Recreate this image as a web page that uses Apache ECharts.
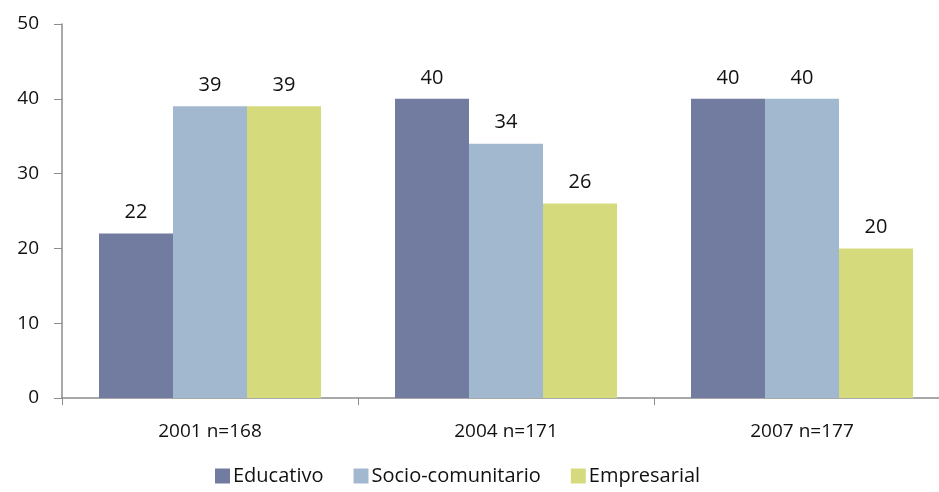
<!DOCTYPE html>
<html>
<head>
<meta charset="utf-8">
<script src="https://cdn.jsdelivr.net/npm/echarts@6/dist/echarts.min.js"></script>
<style>
html,body{margin:0;padding:0;background:#fff;}
#chart{width:939px;height:492px;}
</style>
</head>
<body>
<div id="chart"></div>
<script>
// Survey waves and sample sizes
const categories = ['2001 n=168', '2004 n=171', '2007 n=177'];
const seriesNames = ['Educativo', 'Socio-comunitario', 'Empresarial'];
const educativo = [22, 40, 40];
const socioComunitario = [39, 34, 40];
const empresarial = [39, 26, 20];
const yTicks = [0, 10, 20, 30, 40, 50];

const colors = ['#727BA0', '#A2B8CF', '#D5DB7C'];
const font = '"Open Sans", "Noto Sans", sans-serif';
const axisColor = '#8c8c8c';

const chart = echarts.init(document.getElementById('chart'));

const values = [educativo, socioComunitario, empresarial];
const series = seriesNames.map((name, i) => ({
  name: name,
  type: 'bar',
  data: values[i],
  barGap: '0%',
  barCategoryGap: '25%',
  itemStyle: { color: colors[i] },
  label: {
    show: true,
    position: 'top',
    distance: 11,
    color: '#111',
    fontSize: 20,
    fontFamily: font
  }
}));

chart.setOption({
  animation: false,
  color: colors,
  // the plot area runs slightly past the right edge of the canvas
  grid: {
    left: 62, width: 888, top: 24, bottom: 94,
    containLabel: false,
    outerBoundsMode: 'none'
  },
  legend: {
    bottom: 1,
    left: 210,
    itemWidth: 15,
    itemHeight: 15,
    itemGap: 30,
    icon: 'rect',
    textStyle: { fontSize: 20, color: '#111', fontFamily: font, padding: [0, 0, 0, -2] },
    data: seriesNames
  },
  xAxis: {
    type: 'category',
    data: categories,
    axisLine: { lineStyle: { color: axisColor, width: 1.5 } },
    axisTick: { show: true, length: 7, lineStyle: { color: axisColor } },
    axisLabel: { color: '#111', fontSize: 19, fontFamily: font, margin: 24 }
  },
  yAxis: {
    type: 'value',
    min: yTicks[0],
    max: yTicks[yTicks.length - 1],
    interval: 10,
    axisLine: { show: true, lineStyle: { color: axisColor, width: 1.5 } },
    axisTick: { show: true, length: 8, lineStyle: { color: axisColor } },
    splitLine: { show: false },
    axisLabel: { color: '#111', fontSize: 19, fontFamily: font, margin: 23 }
  },
  series: series
});
</script>
</body>
</html>
